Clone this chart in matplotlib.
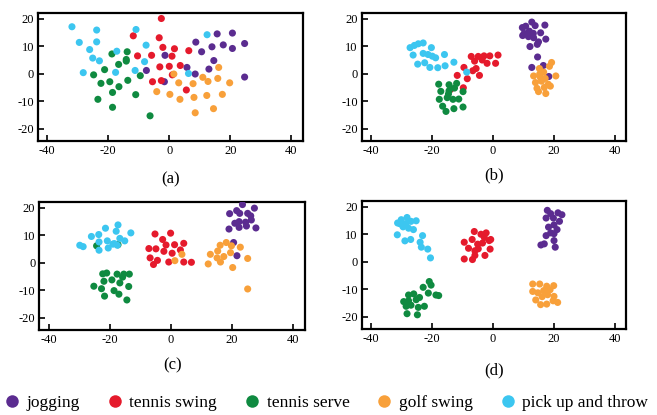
import matplotlib
matplotlib.use("Agg")
import matplotlib.pyplot as plt
from matplotlib.lines import Line2D

# --- DATA ---
classes = ["jogging", "tennis swing", "tennis serve", "golf swing", "pick up and throw"]
colors = ["#5b2c90", "#e51a2c", "#0f8a40", "#f8a03a", "#3cc6f0"]
panel_labels = ["(a)", "(b)", "(c)", "(d)"]
x_ticks = [-40, -20, 0, 20, 40]
y_ticks = [-20, -10, 0, 10, 20]

# panel (a)
a_jogging = [(-1.4, 6.7), (-7.5, 1.2), (-1.6, -2.9), (5.8, 2.3), (8.5, -0.1), (8.7, 11.5),
             (10.6, 8.0), (13.0, 1.7), (14.6, 4.8), (14.0, 9.8), (15.7, 14.5), (17.7, 10.5),
             (20.7, 14.8), (20.7, 9.2), (24.7, 11.0), (24.7, -1.2)]
a_swing = [(-2.6, 20.1), (-11.8, 13.8), (-3.3, 13.1), (-2.1, 9.6), (1.7, 9.1), (-10.4, 6.5),
           (-5.8, 6.7), (0.9, 6.4), (6.4, 8.4), (-3.1, 2.5), (0.0, 2.7), (3.6, 3.0),
           (-5.5, -2.9), (-2.6, -2.5), (1.0, -0.4), (5.6, -5.9)]
a_serve = [(-18.8, 7.2), (-13.8, 8.0), (-14.1, 4.6), (-14.1, 5.2), (-16.6, 3.4), (-21.2, 1.5),
           (-24.8, -0.4), (-22.4, -3.5), (-19.5, -2.9), (-16.5, -4.7), (-13.6, -2.4),
           (-9.5, -0.7), (-23.4, -9.3), (-18.6, -6.8), (-11.0, -7.6), (-18.6, -12.2), (-6.3, -15.3)]
a_golf = [(1.5, -0.1), (3.1, -3.3), (-4.1, -6.5), (0.2, -7.5), (3.5, -9.3), (7.8, -3.6),
          (8.1, -8.6), (8.5, -14.2), (11.0, -1.3), (12.7, -2.8), (16.2, 2.3), (15.9, -1.7),
          (12.3, -7.9), (17.4, -7.5), (19.8, -3.3), (14.5, -12.7)]
a_pickup = [(-31.9, 17.1), (-29.5, 11.4), (-23.8, 15.9), (-23.8, 11.6), (-26.1, 8.8),
            (-25.1, 5.7), (-22.9, 4.7), (-28.2, 0.4), (-17.2, 8.2), (-10.9, 16.1),
            (-7.6, 10.4), (-8.1, 4.4), (-17.6, 0.5), (-11.2, 1.2), (6.3, 0.1), (12.4, 14.2)]

# panel (b)
b_jogging = [(9.7, 16.8), (10.8, 17.3), (12.8, 18.8), (13.9, 17.5), (17.1, 17.7), (10.3, 14.7),
             (12.0, 15.5), (13.3, 14.7), (15.7, 14.9), (9.8, 13.9), (11.7, 13.5), (13.4, 13.1),
             (15.0, 11.6), (17.4, 12.6), (12.2, 9.9), (14.6, 10.7), (14.7, 6.1), (12.8, 2.3),
             (16.6, 3.0), (18.4, -1.0)]
b_swing = [(-7.1, 6.3), (-4.8, 6.3), (-2.9, 6.5), (-1.0, 6.5), (1.7, 6.8), (-6.0, 4.6),
           (-3.5, 5.0), (-1.9, 3.8), (0.9, 3.8), (-9.5, 2.3), (-6.6, 1.1), (-5.5, 1.9),
           (-4.4, -0.6), (-11.7, -0.6), (-8.4, -1.8), (-9.7, -5.1), (-13.9, -5.7)]
b_serve = [(-17.8, -3.8), (-14.4, -4.0), (-11.9, -3.5), (-17.1, -6.4), (-14.4, -6.2),
           (-12.6, -5.2), (-9.8, -6.5), (-17.6, -9.3), (-15.0, -8.7), (-13.1, -9.3),
           (-11.2, -9.2), (-16.5, -11.8), (-12.8, -12.7), (-9.8, -12.1), (-15.4, -13.7),
           (-14.6, -7.4)]
b_golf = [(15.3, 1.9), (19.3, 4.1), (18.6, 2.7), (13.4, -0.8), (15.4, -0.1), (16.7, 0.6),
          (20.7, -0.8), (14.0, -3.2), (16.0, -2.7), (18.2, -3.8), (14.5, -5.3), (16.9, -5.0),
          (18.9, -4.5), (15.0, -6.5), (17.4, -7.2), (15.6, -1.3), (17.2, -1.7)]
b_pickup = [(-27.2, 9.5), (-25.8, 10.3), (-24.5, 10.9), (-22.9, 11.2), (-20.2, 9.5),
            (-26.2, 6.8), (-22.9, 7.4), (-21.3, 7.0), (-19.9, 6.4), (-18.8, 5.8),
            (-15.9, 7.0), (-24.7, 3.5), (-22.4, 4.0), (-20.7, 2.3), (-18.1, 2.2),
            (-15.7, 2.9), (-12.8, 4.2), (-8.6, 0.6)]

# panel (c)
c_jogging = [(23.4, 21.1), (19.2, 17.8), (21.5, 18.9), (22.5, 17.9), (25.1, 17.9), (27.3, 19.8),
             (20.9, 14.3), (22.3, 14.9), (24.4, 14.7), (26.1, 17.0), (26.3, 15.5), (19.0, 12.2),
             (22.3, 12.8), (24.7, 13.3), (27.8, 12.6), (20.5, 7.3), (21.6, 2.5)]
c_swing = [(-5.2, 10.4), (-0.1, 10.7), (-2.7, 8.4), (-1.6, 6.4), (1.2, 6.5), (4.2, 7.0),
           (-7.2, 5.1), (-4.9, 5.0), (-2.3, 4.1), (0.4, 3.4), (3.1, 4.6), (-6.8, 1.7),
           (-4.4, 0.8), (-5.7, -0.7), (-0.7, 0.2), (4.2, 0.2), (6.7, 0.1)]
c_serve = [(-24.3, 6.1), (-17.3, 6.5), (-22.3, -4.1), (-21.0, -3.8), (-17.6, -4.2),
           (-15.4, -4.2), (-13.6, -4.2), (-21.9, -6.8), (-19.3, -6.3), (-16.7, -7.4),
           (-15.8, -5.3), (-25.2, -8.6), (-22.7, -9.5), (-18.6, -10.2), (-17.0, -11.5),
           (-21.7, -12.2), (-14.4, -13.6), (-13.8, -8.7)]
c_golf = [(1.3, 0.7), (3.6, 3.0), (12.2, -0.5), (12.9, 3.0), (16.1, 6.3), (18.1, 7.3),
          (19.8, 6.1), (15.1, 1.7), (16.2, 0.2), (17.3, 2.2), (19.5, 3.6), (20.2, -1.8),
          (22.7, 5.6), (25.1, 1.5), (25.1, -9.6), (15.3, 4.2)]
c_pickup = [(-29.8, 6.3), (-28.7, 5.8), (-26.0, 9.5), (-23.6, 10.2), (-21.4, 12.5),
            (-17.3, 13.7), (-17.9, 11.4), (-13.1, 10.8), (-23.5, 7.5), (-20.8, 7.9),
            (-18.5, 6.9), (-16.7, 8.8), (-15.1, 7.9), (-23.5, 4.5), (-20.5, 5.3),
            (-19.0, 6.7), (-17.5, 6.3)]

# panel (d)
d_jogging = [(17.9, 18.7), (19.0, 17.5), (21.4, 17.8), (22.7, 17.1), (17.5, 15.9), (19.9, 15.9),
             (21.9, 14.7), (18.3, 12.6), (20.1, 13.4), (21.1, 11.7), (19.0, 10.5), (20.1, 10.2),
             (17.5, 9.5), (15.8, 6.1), (16.9, 6.5), (20.1, 7.7), (20.5, 5.3)]
d_swing = [(-6.1, 11.0), (-9.4, 7.1), (-8.0, 4.9), (-5.9, 4.0), (-2.8, 8.8), (-3.9, 10.0),
           (-2.2, 10.5), (-1.2, 7.7), (-0.9, 4.6), (-2.6, 2.3), (-6.8, 8.1), (-5.0, 6.4),
           (-3.4, 6.8), (-9.4, 1.0), (-6.7, 0.8), (-5.9, 2.3), (-0.7, 8.1), (-4.8, 4.7)]
d_serve = [(-20.9, -7.2), (-20.3, -8.5), (-22.9, -9.3), (-21.2, -11.4), (-24.1, -13.0),
           (-25.2, -13.8), (-27.7, -14.2), (-29.3, -14.5), (-26.0, -11.7), (-28.5, -16.2),
           (-26.9, -15.8), (-24.5, -16.6), (-22.5, -16.2), (-28.2, -18.9), (-24.8, -19.3),
           (-18.7, -12.1), (-17.8, -12.3), (-27.7, -12.1)]
d_golf = [(13.1, -8.1), (15.4, -8.1), (17.7, -8.9), (20.0, -8.7), (13.1, -10.8), (14.8, -11.3),
          (16.7, -10.5), (18.8, -10.2), (14.1, -13.9), (16.2, -12.7), (18.0, -12.0),
          (20.1, -12.6), (21.3, -14.8), (15.7, -15.6), (17.7, -15.4), (19.8, -14.2)]
d_pickup = [(-31.3, 14.1), (-30.1, 15.3), (-28.2, 16.1), (-26.9, 14.7), (-25.2, 14.9),
            (-31.4, 9.8), (-29.5, 12.7), (-27.7, 12.2), (-26.1, 11.7), (-28.9, 7.6),
            (-27.0, 8.1), (-23.9, 7.1), (-23.5, 5.3), (-23.1, 9.5), (-21.4, 4.6),
            (-20.5, 1.4), (-30.5, 13.8), (-28.5, 13.9)]

panels = [
    [a_jogging, a_swing, a_serve, a_golf, a_pickup],
    [b_jogging, b_swing, b_serve, b_golf, b_pickup],
    [c_jogging, c_swing, c_serve, c_golf, c_pickup],
    [d_jogging, d_swing, d_serve, d_golf, d_pickup],
]

# --- STYLE ---
plt.rcParams["font.family"] = ["Liberation Serif", "DejaVu Serif"]
plt.rcParams["axes.unicode_minus"] = False

fig = plt.figure(figsize=(6.57, 4.15), dpi=100)

# axes boxes in figure fractions: left, bottom, width, height
boxes = [
    [0.058, 0.660, 0.403, 0.308],
    [0.551, 0.660, 0.402, 0.308],
    [0.060, 0.205, 0.404, 0.308],
    [0.551, 0.207, 0.402, 0.308],
]
label_offsets = [-0.30, -0.27, -0.275, -0.32]

for box, data, lab, off in zip(boxes, panels, panel_labels, label_offsets):
    ax = fig.add_axes(box)
    for pts, col in zip(data, colors):
        xs = [p[0] for p in pts]
        ys = [p[1] for p in pts]
        ax.scatter(xs, ys, s=26, color=col, edgecolors="none", zorder=3)
    ax.set_xlim(-43, 43.8)
    ax.set_ylim(-24.5, 22)
    ax.set_xticks(x_ticks)
    ax.set_yticks(y_ticks)
    ax.tick_params(direction="in", length=4, width=1.2, labelsize=9, pad=3,
                   top=False, right=False)
    for sp in ax.spines.values():
        sp.set_linewidth(1.6)
    ax.text(0.5, off, lab, transform=ax.transAxes, ha="center", va="center", fontsize=12)

# --- LEGEND ---
handles = [Line2D([], [], marker="o", linestyle="none", markersize=9,
                  markerfacecolor=c, markeredgecolor="none") for c in colors]
fig.legend(handles, classes, loc="center", bbox_to_anchor=(0.497, 0.03), ncol=5,
           frameon=False, fontsize=12.5, handlelength=0.8, handletextpad=0.45,
           columnspacing=1.6, borderpad=0)

fig.savefig("out.png", dpi=100)
